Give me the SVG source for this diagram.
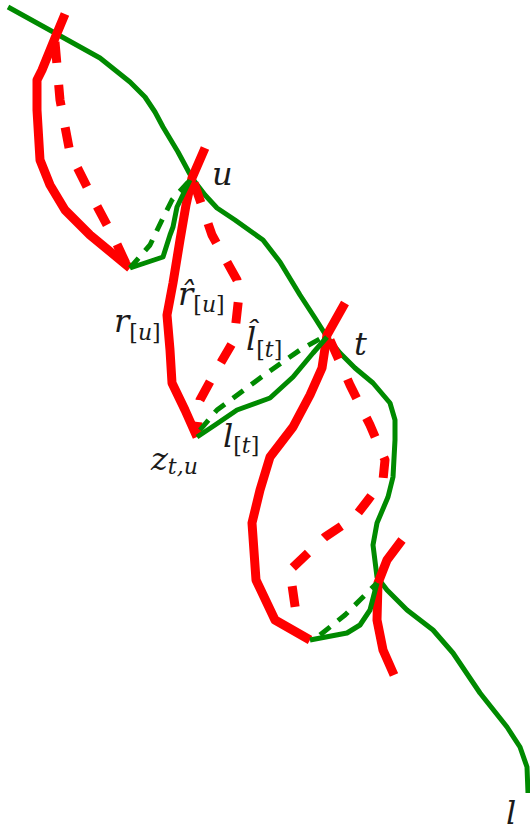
<svg xmlns="http://www.w3.org/2000/svg" width="530" height="831" viewBox="0 0 530 831">
<style>
.g{fill:none;stroke:#008a00;stroke-width:5;stroke-linejoin:round;stroke-linecap:butt}
.gd{fill:none;stroke:#008a00;stroke-width:5;stroke-dasharray:13 10;stroke-linejoin:round}
.r{fill:none;stroke:#ff0000;stroke-width:9;stroke-linejoin:round;stroke-linecap:butt}
.rd{fill:none;stroke:#ff0000;stroke-width:9;stroke-dasharray:21 22;stroke-linejoin:round}
text{font-family:"DejaVu Serif","Liberation Serif",serif;font-style:italic;fill:#1a1a1a}
.lb{font-size:32px}
.sb{font-size:22px}
.up{font-style:normal}
</style>
<g id="main-curve">
<polyline class="g" points="8,7 55,33 100,58 130,82 145,97 155,112 163,127 178,152 192,178 205,195 217,208 235,220 263,240 280,262 300,295 315,318 327,337 340,353 355,368 373,383 390,403 395,420 395,440 393,477 388,497 377,523 373,545 377,577 387,590 407,610 433,630 453,653 480,693 507,727 520,747 527,767 528,793"/>
</g>
<g id="connectors">
<polyline class="r" points="65,14 55,38 42,70 37,80 37,110 40,160 50,185 65,210 90,235 130,268"/>
<polyline class="rd" points="55,42 60,100 70,153 90,193 115,240 128,268"/>
<polyline class="r" points="205,148 192,178 186,205 180,240 173,283 167,315 170,350 172,383 185,410 197,437"/>
<polyline class="rd" points="194,183 212,235 237,280 239,295 234,340 212,378 200,400 197,432"/>
<polyline class="r" points="345,303 327,335 322,368 310,395 293,427 270,457 260,490 252,523 256,580 275,620 310,640"/>
<polyline class="rd" points="330,340 350,385 370,425 385,460 383,480 368,500 355,517 325,537 287,573 292,585 297,620"/>
<polyline class="r" points="402,540 387,560 378,583 377,620 383,650 394,675"/>
<polyline class="g" points="190,180 177,207 173,227 170,235 163,257 130,268"/>
<polyline class="gd" points="130,268 150,245 162,220 172,200 190,180"/>
<polyline class="g" points="197,437 215,425 237,410 270,398 293,377 313,353 327,337"/>
<polyline class="gd" points="200,430 217,410 267,373 300,350 325,336"/>
<polyline class="g" points="310,640 347,633 360,625 370,610 377,583"/>
<polyline class="gd" points="320,635 345,615 360,600 377,583"/>
</g>
<g id="labels">
<text class="lb" x="212" y="185">u</text>
<text class="lb" x="354" y="355">t</text>
<text class="lb" x="506" y="824">l</text>
<text class="lb" x="114" y="332">r<tspan class="sb up" y="340">[</tspan><tspan class="sb" y="340">u</tspan><tspan class="sb up" y="340">]</tspan></text>
<text class="lb" x="178" y="305">r̂<tspan class="sb up" y="312">[</tspan><tspan class="sb" y="312">u</tspan><tspan class="sb up" y="312">]</tspan></text>
<text class="lb" x="246" y="350">l̂<tspan class="sb up" y="357">[</tspan><tspan class="sb" y="357">t</tspan><tspan class="sb up" y="357">]</tspan></text>
<text class="lb" x="223" y="447">l<tspan class="sb up" y="453">[</tspan><tspan class="sb" y="453">t</tspan><tspan class="sb up" y="453">]</tspan></text>
<text class="lb" x="151" y="470">z<tspan class="sb" y="474">t,u</tspan></text>
</g>
</svg>
